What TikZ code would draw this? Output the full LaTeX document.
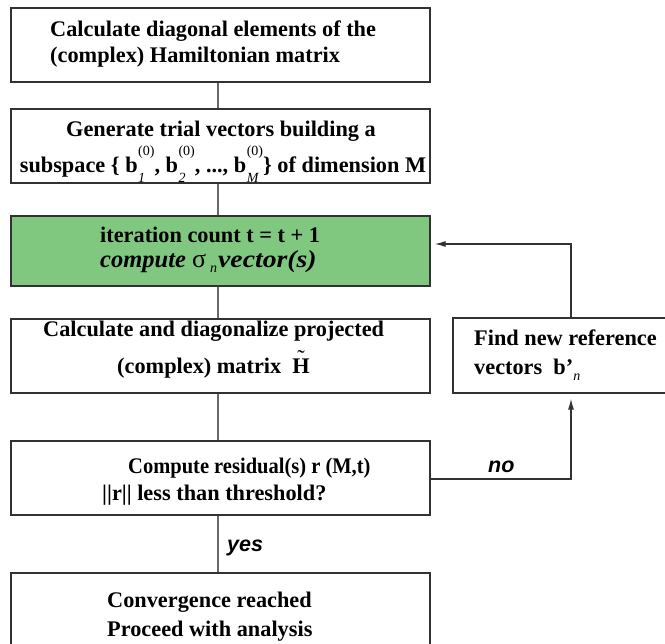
\documentclass[tikz,border=0pt]{standalone}
\usepackage{fontspec}
\usepackage{graphicx}
\setmainfont{Liberation Serif}
\newfontfamily\helv{Liberation Sans}
\usetikzlibrary{arrows.meta}
\definecolor{boxgreen}{RGB}{128,200,128}
\definecolor{edgec}{RGB}{50,50,50}
\definecolor{linec}{RGB}{105,105,105}
\newcommand\smf{\mdseries\fontsize{14}{14}\selectfont}
\newcommand\bvec[1]{b\kern0.5pt\rlap{\raisebox{17pt}{\smf(0)}}\rlap{\raisebox{-9.5pt}{\smf\itshape #1}}\phantom{\smf(0)}}
\newcommand\tildeH{\leavevmode\setbox0\hbox{H}\rlap{\hbox to\wd0{\hss\smash{\raisebox{8.5pt}{\mdseries\char"02DC}}\hss}}H}
\begin{document}
\begin{tikzpicture}[x=1pt,y=-1pt,
  box/.style={draw=edgec,line width=1.3pt,rectangle,inner sep=0pt},
  txt/.style={inner sep=0pt,anchor=base west,font=\bfseries\fontsize{22.3}{26}\selectfont},
  lab/.style={inner sep=0pt,anchor=base west,font=\helv\bfseries\itshape\fontsize{21.5}{24}\selectfont},
  conn/.style={draw=linec,line width=1.3pt},
  arr/.style={draw=edgec,line width=1.3pt,-{Latex[length=11pt,width=6pt]}}]
\useasboundingbox (0,0) rectangle (665,644);
\clip (0,0) rectangle (665,644);
% boxes
\node[box,minimum width=419pt,minimum height=74pt] (b1) at (220.5,45) {};
\node[box,minimum width=419pt,minimum height=74pt] (b2) at (220.5,146) {};
\node[box,fill=boxgreen,minimum width=419pt,minimum height=70pt] (g) at (220.5,251) {};
\node[box,minimum width=419pt,minimum height=74pt] (b4) at (220.5,356) {};
\node[box,minimum width=419pt,minimum height=74pt] (b5) at (220.5,478) {};
\node[box,minimum width=419pt,minimum height=127pt] (b6) at (220.5,636.5) {};
\node[box,minimum width=267pt,minimum height=75pt] (rb) at (586.5,355.5) {};
% texts
\node[txt] (t1a) at (50,37) {Calculate diagonal elements of the};
\node[txt] (t1b) at (50,63) {(complex) Hamiltonian matrix};
\node[txt,anchor=base] (t2a) at (221,137) {Generate trial vectors building a};
\node[txt,anchor=base] (t2b) at (223,172.7) {subspace \{ \bvec{1}, \bvec{2}, ..., \bvec{M}\} of dimension M};
\node[txt] (t3a) at (100,242.5) {iteration count t = t + 1};
\node[txt,font=\bfseries\itshape\fontsize{24.5}{28}\selectfont] (t3b) at (100,267.7)
  {\rlap{compute}\hspace{92pt}\rlap{\mdseries\upshape\fontsize{26}{26}\selectfont σ}\hspace{18pt}\rlap{\raisebox{-5pt}{\smf\itshape n}}\hspace{8pt}\scalebox{1.13}[1]{vector(s)}};
\node[txt] (t4a) at (43,336.7) {Calculate and diagonalize projected};
\node[txt] (t4b) at (117,374) {(complex) matrix \ \tildeH};
\node[txt] (t5a) at (128,474) {\scalebox{0.92}[1]{Compute residual(s) r (M,t)}};
\node[txt] (t5b) at (102,501) {||r|| less than threshold?};
\node[txt] (t6a) at (107,608) {Convergence reached};
\node[txt] (t6b) at (107,637) {Proceed with analysis};
\node[txt] (tra) at (474,346) {Find new reference};
\node[txt] (trb) at (474,375) {vectors \ b’\raisebox{-6pt}{\smf\itshape n}};
% spine connectors
\coordinate (spine) at (218,0);
\draw[conn] (b1.south -| spine) -- (b2.north -| spine);
\draw[conn] (b2.south -| spine) -- (g.north -| spine);
\draw[conn] (g.south -| spine) -- (b4.north -| spine);
\draw[conn] (b4.south -| spine) -- (b5.north -| spine);
\draw[conn] (b5.south -| spine) -- (b6.north -| spine);
\node[lab] (yes) at (227,552) {yes};
% loop
\coordinate (nocorner) at (571,479);
\coordinate (loopc) at (571,244);
\draw[arr,shorten >=5pt] (b5.east |- nocorner) -- (nocorner) -- (nocorner |- rb.south);
\node[lab] (no) at (488,473) {no};
\draw[arr,shorten >=4pt] (rb.north -| loopc) -- (loopc) -- (loopc -| g.east);
\end{tikzpicture}
\end{document}
